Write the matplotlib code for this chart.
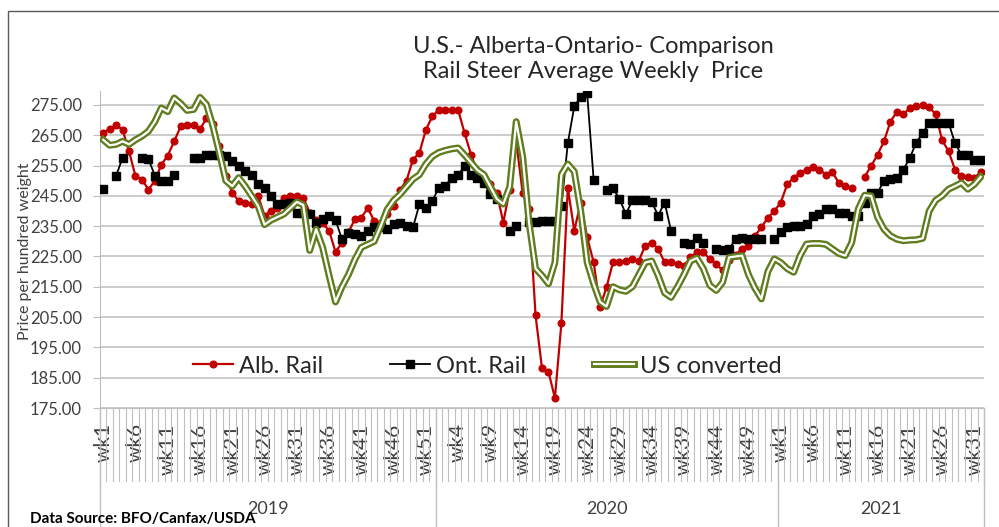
import numpy as np
import matplotlib.pyplot as plt
from matplotlib.lines import Line2D
from matplotlib.patches import Rectangle
from matplotlib.legend_handler import HandlerTuple

plt.rcParams['font.family'] = ['Lato', 'DejaVu Sans']

years = ['2019', '2020', '2021']
weeks_per_year = [52, 53, 32]

# Alberta rail steer ($/cwt), weekly
alb_2019 = [265.9, 267.0, 268.4, 266.8, 259.7, 251.5, 250.4, 247.1, 249.9, 255.3,
            258.3, 263.0, 267.9, 268.4, 268.4, 267.0, 270.6, 268.8, 261.3, 251.5,
            246.0, 243.3, 242.5, 242.2, 245.0, 238.5, 240.0, 241.0, 244.4, 245.0,
            245.0, 244.4, 239.5, 237.0, 236.0, 233.5, 226.5, 229.5, 233.0, 237.3,
            237.8, 241.0, 236.7, 236.2, 239.0, 241.5, 247.0, 250.0, 257.0, 259.2,
            266.8, 271.2]
alb_2020 = [273.4, 273.4, 273.4, 273.4, 265.7, 258.6, 253.0, 251.0, 249.0, 246.0,
            236.2, 247.1, 263.0, 246.0, 240.6, 205.6, 188.1, 187.0, 178.3, 202.9,
            247.7, 233.5, 242.8, 231.3, 223.1, 208.3, 214.9, 223.1, 223.1, 223.6,
            224.2, 223.6, 228.6, 229.6, 227.5, 223.1, 223.3, 222.5, 222.0, 224.7,
            226.4, 226.4, 224.2, 222.5, 220.4, 224.0, 225.5, 227.5, 228.6, 231.8,
            234.6, 237.8, 240.0]
alb_2021 = [242.8, 248.8, 251.0, 252.6, 253.7, 254.5, 253.7, 252.0, 252.8, 249.3,
            248.2, 247.7, None, 251.3, 254.8, 258.6, 263.0, 269.5, 272.8, 272.0,
            273.9, 274.5, 275.0, 274.2, 272.0, 263.5, 259.7, 253.7, 251.5, 251.3,
            251.0, 252.8]

# Ontario rail steer
ont_2019 = [247.2, None, 251.7, 257.5, None, None, 257.5, 257.2, 251.7, 250.0,
            250.0, 252.0, None, None, 257.5, 257.5, 258.6, 258.6, 258.6, 258.3,
            256.4, 254.8, 253.1, 252.0, 248.8, 247.5, 245.0, 242.2, 242.2, 242.8,
            239.5, 239.5, 239.0, 236.2, 237.3, 238.4, 237.0, 230.7, 232.9, 232.4,
            231.8, 233.5, 234.6, 234.6, 234.0, 235.6, 236.2, 235.2, 234.6, 242.2,
            241.1, 243.3]
ont_2020 = [247.7, 248.2, 251.0, 252.0, 254.8, 252.0, 251.0, 249.3, 245.5, 243.9,
            None, 233.5, 235.1, None, 236.5, 236.5, 236.7, 236.7, 236.7, 241.5,
            262.4, 274.5, 277.7, 278.8, 250.4, None, 247.0, 247.5, 244.0, 239.0,
            243.5, 243.5, 243.5, 243.0, 238.5, 242.8, 233.5, None, 229.6, 229.0,
            231.0, 229.6, None, 227.5, 227.0, 227.5, 230.7, 231.0, 230.7, 230.7,
            230.7, None, 230.7]
ont_2021 = [233.0, 234.6, 235.0, 235.1, 235.6, 238.4, 239.0, 240.6, 240.6, 239.5,
            239.2, 238.4, 238.4, 242.8, 246.0, 246.0, 250.0, 250.5, 251.0, 253.7,
            257.5, 262.6, 265.7, 269.0, 269.0, 269.0, 269.2, 262.4, 258.6, 258.6,
            256.7, 256.7]

# US price converted
us_2019 = [263.5, 261.7, 262.0, 263.0, 262.0, 263.5, 264.7, 266.3, 269.5, 274.0,
           272.8, 277.3, 275.5, 273.2, 273.5, 277.5, 275.2, 268.0, 259.2, 250.0,
           248.2, 251.0, 248.2, 245.0, 241.7, 235.5, 237.0, 238.0, 239.0, 241.0,
           243.0, 242.0, 227.0, 234.0, 228.0, 218.7, 210.0, 215.0, 219.0, 224.0,
           228.0, 229.0, 230.0, 235.0, 240.5, 243.5, 245.5, 248.0, 250.5, 252.0,
           255.5, 258.0]
us_2020 = [259.3, 260.0, 260.5, 260.8, 258.5, 256.0, 253.5, 252.0, 248.0, 244.0,
           242.3, 248.0, 269.5, 258.0, 236.0, 221.0, 218.7, 216.0, 223.0, 252.0,
           255.5, 253.0, 240.0, 223.0, 216.0, 210.0, 208.5, 215.0, 214.0, 213.5,
           215.0, 219.0, 223.0, 223.5, 218.7, 213.0, 211.5, 215.0, 219.0, 223.5,
           224.5, 221.0, 215.5, 213.8, 216.5, 224.7, 225.0, 225.3, 219.0, 214.5,
           211.0, 220.0, 224.2]
us_2021 = [223.0, 221.0, 219.8, 225.3, 229.1, 229.3, 229.3, 229.0, 227.5, 226.0,
           225.3, 229.6, 240.6, 245.2, 245.0, 238.0, 234.0, 231.8, 230.7, 230.2,
           230.4, 230.5, 231.0, 240.0, 243.5, 245.0, 247.2, 248.2, 249.3, 247.2,
           248.8, 251.3]


def join(*parts):
    return np.array([np.nan if v is None else v for p in parts for v in p], dtype=float)


alb = join(alb_2019, alb_2020, alb_2021)
ont = join(ont_2019, ont_2020, ont_2021)
us = join(us_2019, us_2020, us_2021)

week_labels = []
for n in weeks_per_year:
    week_labels += ['wk%d' % w for w in range(1, n + 1)]
x = np.arange(len(week_labels))

red = '#C00000'
olive = '#5F7D1E'
grid_c = '#BFBFBF'
txt_c = '#404040'

fig = plt.figure(figsize=(9.99, 5.27), dpi=100)
ax = fig.add_axes([0.1001, 0.2258, 0.8849, 0.6015])

ax.plot(x, alb, color=red, lw=1.6, marker='o', ms=4.8, zorder=3)
ax.plot(x, ont, color='black', lw=1.3, marker='s', ms=5.5, zorder=4)
ax.plot(x, us, color=olive, lw=5, zorder=5)
ax.plot(x, us, color='white', lw=1.6, zorder=6)

ax.set_xlim(-0.5, len(x) - 0.5)
ax.set_ylim(175, 279.6)
ax.set_yticks(np.arange(175, 276, 10))
ax.set_yticklabels(['%.2f' % v for v in np.arange(175, 276, 10)])
ax.yaxis.grid(True, color=grid_c, lw=1.1)
ax.set_axisbelow(True)
for s in ['top', 'right']:
    ax.spines[s].set_visible(False)
ax.spines['left'].set_color(grid_c)
ax.spines['bottom'].set_color(grid_c)
ax.tick_params(axis='y', length=5, color=grid_c, labelsize=12, labelcolor=txt_c, pad=8)

# week labels every 5 categories
ax.set_xticks(x[::5])
ax.set_xticklabels([week_labels[i] for i in x[::5]], rotation=90, va='top',
                   fontsize=15, color=txt_c)
ax.tick_params(axis='x', length=0, pad=11)

# category separators and year blocks
trans = ax.get_xaxis_transform()
for b in np.arange(-0.5, len(x)):
    ax.plot([b, b], [0, -0.23], transform=trans, color=grid_c, lw=0.8, clip_on=False)
start = 0
for yr, n in zip(years, weeks_per_year):
    ax.plot([start - 0.5, start - 0.5], [0, -0.4], transform=trans, color=grid_c,
            lw=1, clip_on=False)
    ax.text(start + (n - 1) / 2, -0.32, yr, transform=trans, ha='center', va='center',
            fontsize=13, color=txt_c)
    start += n
ax.plot([start - 0.5, start - 0.5], [0, -0.4], transform=trans, color=grid_c,
        lw=1, clip_on=False)

# legend
h_alb = Line2D([], [], color=red, lw=1.6, marker='o', ms=4.8)
h_ont = Line2D([], [], color='black', lw=1.3, marker='s', ms=5.5)
h_us = (Line2D([], [], color=olive, lw=5), Line2D([], [], color='white', lw=1.6))
ax.legend([h_alb, h_ont, h_us], ['Alb. Rail', 'Ont. Rail', 'US converted'],
          handler_map={tuple: HandlerTuple(ndivide=1)},
          loc='center', bbox_to_anchor=(0.4875, 0.3055), bbox_transform=fig.transFigure,
          ncol=3, frameon=False, fontsize=17, handlelength=1.7, handletextpad=0.25,
          columnspacing=2.85, labelcolor='#262626')

fig.text(0.594, 0.888, 'U.S.- Alberta-Ontario- Comparison\nRail Steer Average Weekly  Price',
         ha='center', va='center', fontsize=17, linespacing=1.25, color='#262626')
fig.text(25 / 999, 0.5237, 'Price per hundred weight', rotation=90, ha='center',
         va='center', fontsize=11.5, color=txt_c)
fig.text(30 / 999, 1 - 519 / 527, 'Data Source: BFO/Canfax/USDA', ha='left',
         va='center', fontsize=11, fontweight='bold', color='black')

fig.add_artist(Rectangle((8 / 999, -0.1), 1.2, 1 - 11 / 527 + 0.1, transform=fig.transFigure,
                         fill=False, edgecolor='#595959', lw=1))

fig.savefig('out.png', dpi=100)
